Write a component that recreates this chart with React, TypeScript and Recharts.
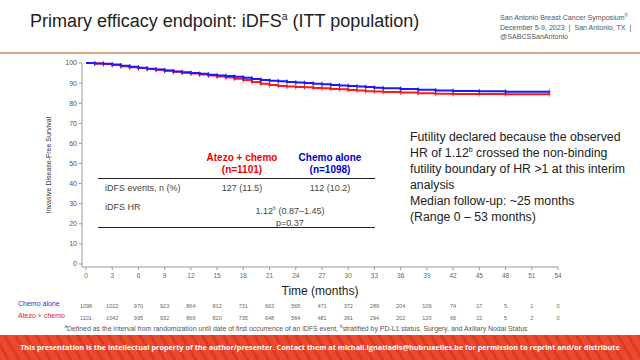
import React from 'react';
import { LineChart, Line, XAxis, YAxis, Label } from 'recharts';

// KM estimates (months, % iDFS)
const chemoTimes = [0, 1, 2, 3, 4, 5, 6, 7, 8, 9, 10, 11, 12, 13, 14, 15, 16, 17, 18, 19, 20, 21, 22, 23, 24, 25, 26, 27, 28, 29, 30, 31, 32, 33, 34, 36, 38, 40, 42, 45, 48, 53];
const chemoSurv = [100, 99.8, 99.6, 99.2, 98.6, 98.1, 97.6, 97.2, 96.8, 96.3, 95.8, 95.4, 95.0, 94.6, 94.2, 93.8, 93.5, 93.1, 92.6, 92.1, 91.6, 91.2, 90.9, 90.6, 90.3, 90.0, 89.7, 89.4, 89.1, 88.8, 88.6, 88.3, 88.0, 87.7, 87.4, 87.1, 86.7, 86.3, 86.1, 85.9, 85.7, 85.7];

const atezoTimes = [0, 1, 2, 3, 4, 5, 6, 7, 8, 9, 10, 11, 12, 13, 14, 15, 16, 17, 18, 19, 20, 21, 22, 23, 24, 25, 26, 27, 28, 29, 30, 31, 32, 33, 34, 36, 38, 40, 42, 45, 48, 53];
const atezoSurv = [100, 99.8, 99.5, 99.0, 98.4, 97.9, 97.5, 97.0, 96.6, 96.1, 95.6, 95.2, 94.8, 94.3, 93.8, 93.3, 92.8, 92.2, 91.5, 90.6, 89.7, 89.0, 88.6, 88.3, 88.1, 87.9, 87.6, 87.4, 87.1, 86.9, 86.6, 86.3, 86.0, 85.8, 85.6, 85.3, 85.0, 84.7, 84.6, 84.6, 84.5, 84.5];

const monthTicks = [0, 3, 6, 9, 12, 15, 18, 21, 24, 27, 30, 33, 36, 39, 42, 45, 48, 51, 54];
const survTicks = [0, 10, 20, 30, 40, 50, 60, 70, 80, 90, 100];

const chemoAtRisk = [1098, 1022, 970, 923, 864, 812, 731, 663, 565, 471, 372, 289, 204, 109, 74, 17, 5, 1, 0];
const atezoAtRisk = [1101, 1042, 995, 932, 869, 820, 735, 648, 564, 481, 391, 294, 202, 120, 66, 22, 5, 2, 0];

const BLUE = '#1a1aff';
const RED = '#ff1a1a';

const chemoData = chemoTimes.map((t, i) => ({ t, s: chemoSurv[i] }));
const atezoData = atezoTimes.map((t, i) => ({ t, s: atezoSurv[i] }));

const censorMark = (color: string) => (props: any) => {
  const { cx, cy, index } = props;
  if (cx == null || cy == null || index === 0) return <g key={index} />;
  return (
    <g key={index} stroke={color} strokeWidth={1} opacity={0.75}>
      <line x1={cx} y1={cy - 2.5} x2={cx} y2={cy + 2.5} />
      <line x1={cx - 1.5} y1={cy} x2={cx + 1.5} y2={cy} />
    </g>
  );
};

// month label plus the two numbers-at-risk rows under it
const MonthTick = (props: any) => {
  const { x, y, payload } = props;
  const i = monthTicks.indexOf(payload.value);
  return (
    <g>
      <text x={x} y={y + 6} textAnchor="middle" fontSize={6.5} fill="#666">
        {payload.value}
      </text>
      <text x={x} y={y + 36} textAnchor="middle" fontSize={5.5} fill="#666">
        {chemoAtRisk[i]}
      </text>
      <text x={x} y={y + 48} textAnchor="middle" fontSize={5.5} fill="#666">
        {atezoAtRisk[i]}
      </text>
    </g>
  );
};

const abs = (x: number, y: number, extra: React.CSSProperties = {}): React.CSSProperties => ({
  position: 'absolute',
  left: x,
  top: y,
  whiteSpace: 'nowrap',
  ...extra,
});

export default function App() {
  const font = '"Liberation Sans", Arial, sans-serif';
  return (
    <div style={{ position: 'absolute', left: 0, top: 0, width: 640, height: 360, background: '#fff', fontFamily: font, overflow: 'hidden' }}>
      {/* header */}
      <div style={abs(30, 10, { fontSize: 18, color: '#222' })}>
        Primary efficacy endpoint: iDFS<sup style={{ fontSize: 10.5 }}>a</sup> (ITT population)
      </div>
      <div style={abs(500, 11, { fontSize: 7.1, color: '#555', lineHeight: '9.5px' })}>
        San Antonio Breast Cancer Symposium<sup style={{ fontSize: 4.5 }}>®</sup>
        <br />
        December 5-9, 2023 &nbsp;|&nbsp; San Antonio, TX &nbsp;|
        <br />
        @SABCSSanAntonio
      </div>
      <div style={abs(0, 52, { width: 640, height: 2, background: '#d8a688' })} />

      <LineChart
        width={640}
        height={360}
        style={{ position: 'absolute', left: 0, top: 0 }}
        margin={{ top: 63, right: 82, left: 52, bottom: 62 }}
      >
        <XAxis
          dataKey="t"
          type="number"
          domain={[0, 54]}
          ticks={monthTicks}
          padding={{ left: 4, right: 0 }}
          height={31}
          tick={<MonthTick />}
          tickSize={3}
          tickLine={{ stroke: '#999' }}
          axisLine={{ stroke: '#999' }}
          allowDuplicatedCategory={false}
        >
          <Label value="Time (months)" position="insideBottom" offset={3} style={{ fontSize: 12, fill: '#222' }} />
        </XAxis>
        <YAxis
          type="number"
          domain={[0, 100]}
          ticks={survTicks}
          width={30}
          padding={{ top: 0, bottom: 3 }}
          tick={{ fontSize: 7, fill: '#555' }}
          tickSize={3}
          tickLine={{ stroke: '#999' }}
          axisLine={{ stroke: '#999' }}
        />
        <Line
          data={atezoData}
          dataKey="s"
          type="stepAfter"
          stroke={RED}
          strokeWidth={2}
          dot={censorMark(RED)}
          isAnimationActive={false}
        />
        <Line
          data={chemoData}
          dataKey="s"
          type="stepAfter"
          stroke={BLUE}
          strokeWidth={2}
          dot={censorMark(BLUE)}
          isAnimationActive={false}
        />
      </LineChart>

      {/* y-axis title */}
      <div
        style={abs(48, 165, {
          fontSize: 7,
          color: '#333',
          transform: 'translate(-50%, -50%) rotate(-90deg)',
        })}
      >
        Invasive Disease-Free Survival
      </div>

      {/* embedded results table */}
      <div style={abs(242, 152, { fontSize: 10, fontWeight: 'bold', color: '#e00', textAlign: 'center', transform: 'translateX(-50%)', lineHeight: '12px' })}>
        Atezo + chemo
        <br />
        (n=1101)
      </div>
      <div style={abs(330, 152, { fontSize: 10, fontWeight: 'bold', color: '#00c', textAlign: 'center', transform: 'translateX(-50%)', lineHeight: '12px' })}>
        Chemo alone
        <br />
        (n=1098)
      </div>
      <div style={abs(98, 178, { width: 277, height: 1, background: '#222' })} />
      <div style={abs(105, 183, { fontSize: 9, color: '#444' })}>iDFS events, n (%)</div>
      <div style={abs(242, 183, { fontSize: 9, color: '#444', transform: 'translateX(-50%)' })}>127 (11.5)</div>
      <div style={abs(330, 183, { fontSize: 9, color: '#444', transform: 'translateX(-50%)' })}>112 (10.2)</div>
      <div style={abs(105, 202, { fontSize: 9, color: '#444' })}>iDFS HR</div>
      <div style={abs(290, 202, { fontSize: 9, color: '#444', transform: 'translateX(-50%)', textAlign: 'center', lineHeight: '12px' })}>
        1.12<sup style={{ fontSize: 5 }}>b</sup> (0.87–1.45)
        <br />
        p=0.37
      </div>
      <div style={abs(98, 227, { width: 277, height: 1, background: '#222' })} />

      {/* side note */}
      <div style={abs(410, 129, { fontSize: 12.3, color: '#222', lineHeight: '16px' })}>
        Futility declared because the observed
        <br />
        HR of 1.12<sup style={{ fontSize: 7, lineHeight: 0 }}>b</sup> crossed the non-binding
        <br />
        futility boundary of HR &gt;1 at this interim
        <br />
        analysis
        <br />
        Median follow-up: ~25 months
        <br />
        (Range 0 – 53 months)
      </div>

      {/* at-risk row labels */}
      <div style={abs(18, 300, { fontSize: 7, color: '#3333cc' })}>Chemo alone</div>
      <div style={abs(18, 312, { fontSize: 7, color: '#dd2222' })}>Atezo + chemo</div>

      {/* footnote */}
      <div style={abs(296, 324, { fontSize: 6.9, color: '#555', transform: 'translateX(-50%)' })}>
        <sup style={{ fontSize: 4.5 }}>a</sup>Defined as the interval from randomization until date of first occurrence of an iDFS event, <sup style={{ fontSize: 4.5 }}>b</sup>stratified by PD-L1 status, Surgery, and Axillary Nodal Status
      </div>

      {/* footer band */}
      <div
        style={abs(0, 335, {
          width: 640,
          height: 25,
          background: 'repeating-linear-gradient(60deg, #ec4a2c 0px, #ec4a2c 6px, #e03a26 6px, #e03a26 9px)',
        })}
      />
      <div style={abs(320, 342, { fontSize: 7.3, fontWeight: 'bold', color: '#fff', transform: 'translateX(-50%)', fontFamily: '"Open Sans", "Liberation Sans", sans-serif' })}>
        This presentation is the intellectual property of the author/presenter. Contact them at michail.ignatiadis@hubruxelles.be for permission to reprint and/or distribute
      </div>
    </div>
  );
}
